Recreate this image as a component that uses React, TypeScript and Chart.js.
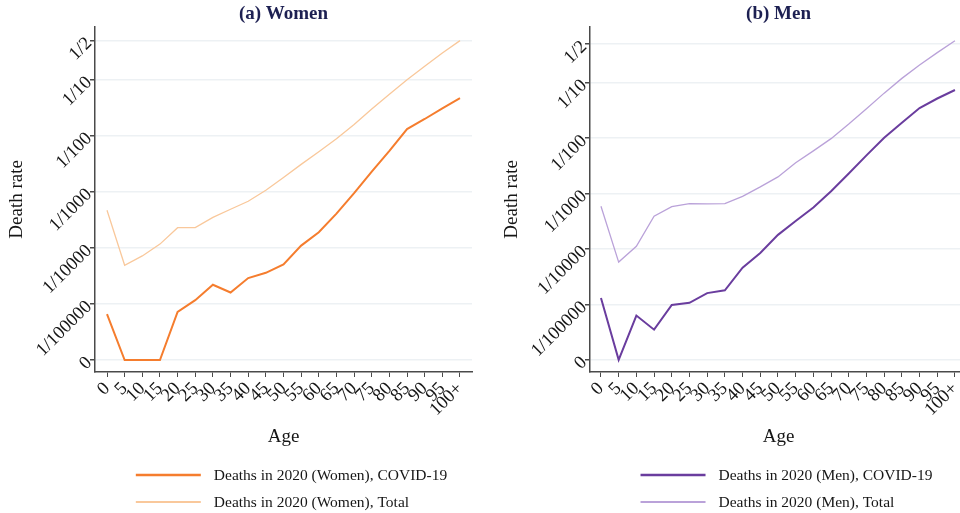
import React, { useEffect, useRef } from "react";
import { Chart, registerables } from "chart.js";

Chart.register(...registerables);

// ---- data ----
const ageLabels = ["0", "5", "10", "15", "20", "25", "30", "35", "40", "45", "50", "55", "60", "65", "70", "75", "80", "85", "90", "95", "100+"];

const yTickRates = [0, 1e-5, 1e-4, 1e-3, 1e-2, 1e-1, 0.5];
const yTickLabels = ["0", "1/100000", "1/10000", "1/1000", "1/100", "1/10", "1/2"];
const ZERO_LEVEL = 1e-6; // axis position where "0" is drawn

const womenCovid = [6.6e-6, 0, 0, 0, 7.2e-6, 1.17e-5, 2.2e-5, 1.6e-5, 2.9e-5, 3.6e-5, 5.1e-5, 1.1e-4, 1.9e-4, 4.1e-4, 9.5e-4, 2.3e-3, 5.4e-3, 0.0132, 0.02, 0.031, 0.047];
const womenTotal = [4.7e-4, 4.9e-5, 7.2e-5, 1.17e-4, 2.3e-4, 2.3e-4, 3.5e-4, 4.9e-4, 6.8e-4, 1.07e-3, 1.8e-3, 3.1e-3, 5.2e-3, 8.9e-3, 0.016, 0.03, 0.055, 0.1, 0.174, 0.3, 0.5];
const menCovid = [1.3e-5, 0, 6.3e-6, 3.5e-6, 9.8e-6, 1.07e-5, 1.6e-5, 1.8e-5, 4.6e-5, 8.5e-5, 1.8e-4, 3.2e-4, 5.6e-4, 1.1e-3, 2.3e-3, 4.9e-3, 0.0102, 0.019, 0.035, 0.052, 0.074];
const menTotal = [5.9e-4, 5.8e-5, 1.12e-4, 3.9e-4, 5.8e-4, 6.6e-4, 6.5e-4, 6.6e-4, 8.9e-4, 1.32e-3, 2.0e-3, 3.6e-3, 5.9e-3, 9.8e-3, 0.018, 0.034, 0.065, 0.12, 0.21, 0.35, 0.575];

const FONT = "'Liberation Serif', 'Times New Roman', serif";
const TEXT = "#161616";
const AXIS = "#4a4a4a";
const GRID = "#edf1f4";
const TITLE_COLOR = "#1d2052";

type PanelProps = {
  left: number;
  title: string;
  covid: number[];
  total: number[];
  covidLabel: string;
  totalLabel: string;
  covidColor: string;
  totalColor: string;
  yMinLog: number;
  yMaxLog: number;
  xMin: number;
  xMax: number;
};

const legendPlugin = {
  id: "customLegend",
  afterDraw(chart: any) {
    const ctx = chart.ctx;
    const area = chart.chartArea;
    const ds = chart.data.datasets;
    ctx.save();
    ctx.font = `15.5px ${FONT}`;
    const lineLen = 65;
    const gap = 13;
    let maxW = 0;
    ds.forEach((d: any) => {
      maxW = Math.max(maxW, ctx.measureText(d.label).width);
    });
    const blockW = lineLen + gap + maxW;
    const cx = (area.left + area.right) / 2 + 8;
    const x0 = cx - blockW / 2;
    const rows = [475, 502];
    ds.forEach((d: any, i: number) => {
      const y = rows[i];
      ctx.strokeStyle = d.borderColor;
      ctx.lineWidth = d.borderWidth + 0.5;
      ctx.beginPath();
      ctx.moveTo(x0, y);
      ctx.lineTo(x0 + lineLen, y);
      ctx.stroke();
      ctx.fillStyle = TEXT;
      ctx.textAlign = "left";
      ctx.textBaseline = "middle";
      ctx.fillText(d.label, x0 + lineLen + gap, y + 1);
    });
    ctx.restore();
  },
};

function Panel(p: PanelProps) {
  const ref = useRef<HTMLCanvasElement | null>(null);
  useEffect(() => {
    if (!ref.current) return;
    const toPts = (arr: number[]) => arr.map((v, i) => ({ x: i, y: v === 0 ? ZERO_LEVEL : v }));
    const chart = new Chart(ref.current, {
      type: "line",
      data: {
        datasets: [
          {
            label: p.covidLabel,
            data: toPts(p.covid),
            borderColor: p.covidColor,
            backgroundColor: p.covidColor,
            borderWidth: 2,
            pointRadius: 0,
            tension: 0,
          },
          {
            label: p.totalLabel,
            data: toPts(p.total),
            borderColor: p.totalColor,
            backgroundColor: p.totalColor,
            borderWidth: 1.3,
            pointRadius: 0,
            tension: 0,
          },
        ],
      },
      options: {
        responsive: false,
        animation: false,
        layout: { padding: { top: 0, right: 8, bottom: 0, left: 0 } },
        plugins: {
          legend: { display: false },
          tooltip: { enabled: false },
          title: {
            display: true,
            text: p.title,
            color: TITLE_COLOR,
            font: { family: FONT, size: 19, weight: "bold" },
            padding: { top: 3, bottom: 1 },
            fullSize: false,
          },
        },
        scales: {
          x: {
            type: "linear",
            min: p.xMin,
            max: p.xMax,
            afterBuildTicks: (s: any) => {
              s.ticks = ageLabels.map((_, i) => ({ value: i }));
            },
            afterFit: (s: any) => {
              s.height = 141;
            },
            ticks: {
              autoSkip: false,
              minRotation: 45,
              maxRotation: 45,
              padding: 1,
              color: TEXT,
              font: { family: FONT, size: 18.5 },
              callback: (v: any) => ageLabels[Math.round(Number(v))] ?? "",
            },
            grid: { drawOnChartArea: false, drawTicks: true, tickLength: 5, tickColor: AXIS, lineWidth: 1 },
            border: { display: true, color: AXIS, width: 1.5 },
            title: {
              display: true,
              text: "Age",
              color: TEXT,
              font: { family: FONT, size: 19 },
              padding: { top: 0, bottom: 65 },
            },
          },
          y: {
            type: "logarithmic",
            min: Math.pow(10, p.yMinLog),
            max: Math.pow(10, p.yMaxLog),
            afterBuildTicks: (s: any) => {
              s.ticks = yTickRates.map((r) => ({ value: r === 0 ? ZERO_LEVEL : r }));
            },
            afterFit: (s: any) => {
              s.width = 95;
            },
            ticks: {
              autoSkip: false,
              minRotation: 45,
              maxRotation: 45,
              padding: 1,
              color: TEXT,
              font: { family: FONT, size: 18.5 },
              callback: (_v: any, i: number) => yTickLabels[i],
            },
            grid: { color: GRID, lineWidth: 1.5, tickColor: AXIS, tickLength: 5, drawTicks: true },
            border: { display: true, color: AXIS, width: 1.5 },
            title: {
              display: true,
              text: "Death rate",
              color: TEXT,
              font: { family: FONT, size: 19 },
              padding: { top: 6, bottom: 0 },
            },
          },
        },
      },
      plugins: [legendPlugin],
    } as any);
    return () => chart.destroy();
  }, []);
  return (
    <canvas
      ref={ref}
      width={480}
      height={513}
      style={{ position: "absolute", left: p.left, top: 0, width: 480, height: 513 }}
    />
  );
}

export default function App() {
  return (
    <div
      style={{
        position: "fixed",
        left: 0,
        top: 0,
        width: 960,
        height: 513,
        overflow: "hidden",
        background: "#ffffff",
      }}
    >
      <Panel
        left={0}
        title="(a) Women"
        covid={womenCovid}
        total={womenTotal}
        covidLabel="Deaths in 2020 (Women), COVID-19"
        totalLabel="Deaths in 2020 (Women), Total"
        covidColor="#f57d2e"
        totalColor="#f9c89b"
        yMinLog={-6.214}
        yMaxLog={-0.054}
        xMin={-0.68}
        xMax={20.68}
      />
      <Panel
        left={495}
        title="(b) Men"
        covid={menCovid}
        total={menTotal}
        covidLabel="Deaths in 2020 (Men), COVID-19"
        totalLabel="Deaths in 2020 (Men), Total"
        covidColor="#6a3d9e"
        totalColor="#baa2d9"
        yMinLog={-6.22}
        yMaxLog={0.01}
        xMin={-0.62}
        xMax={20.68}
      />
    </div>
  );
}
